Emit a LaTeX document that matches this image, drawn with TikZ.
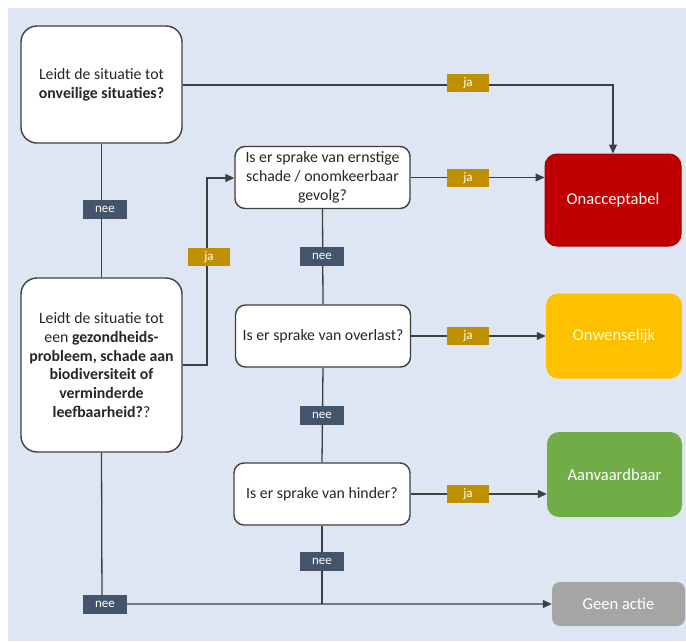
\documentclass[tikz,border=0pt]{standalone}
\usepackage{fontspec}
\setmainfont{Carlito}
\usetikzlibrary{arrows.meta,calc}
\definecolor{bgpanel}{HTML}{DEE6F3}
\definecolor{linec}{HTML}{3F3F3F}
\definecolor{neec}{HTML}{44546A}
\definecolor{jac}{HTML}{BF9000}
\definecolor{redc}{HTML}{C00000}
\definecolor{yelc}{HTML}{FFC000}
\definecolor{grnc}{HTML}{70AD47}
\definecolor{gryc}{HTML}{A5A5A5}
\definecolor{txtc}{HTML}{262626}
\tikzset{
  question/.style={draw=linec, line width=1.4pt, fill=white, align=center, text=txtc,
    font=\fontsize{15.8}{18.8}\selectfont, inner sep=2pt},
  result/.style={align=center, text=white, font=\fontsize{16.6}{19}\selectfont,
    rounded corners=12pt},
  conn/.style={draw=linec, line width=1.3pt},
  arr/.style={conn, -{Triangle[length=9pt,width=8pt]}},
  neelab/.style={fill=neec, text=white, minimum width=44pt, minimum height=19pt,
    inner sep=0pt, font=\fontsize{13}{14}\selectfont},
  jalab/.style={fill=jac, text=white, minimum width=42pt, minimum height=18pt,
    inner sep=0pt, font=\fontsize{13}{14}\selectfont},
}
\begin{document}
\begin{tikzpicture}[x=1pt,y=-1pt]
\useasboundingbox (0,0) rectangle (686,641);
\fill[white] (0,0) rectangle (686,641);
\fill[bgpanel] (8,8) rectangle (686,641);

% questions
\node[question, rounded corners=16pt, minimum width=161pt, minimum height=117pt] (q1) at (101.5,84.5)
  {Leidt de situatie tot\\\textbf{onveilige situaties?}};
\node[question, rounded corners=16pt, minimum width=161pt, minimum height=174pt] (q2) at (101.5,365)
  {Leidt de situatie tot\\een \textbf{gezondheids-}\\\textbf{probleem, schade aan}\\\textbf{biodiversiteit of}\\\textbf{verminderde}\\\textbf{leefbaarheid?}?};
\node[question, rounded corners=10pt, minimum width=175pt, minimum height=62pt] (q3) at (322.5,177.5)
  {Is er sprake van ernstige\\schade / onomkeerbaar\\gevolg?};
\node[question, rounded corners=10pt, minimum width=175pt, minimum height=62pt] (q4) at (323,336)
  {Is er sprake van overlast?};
\node[question, rounded corners=10pt, minimum width=176pt, minimum height=62pt] (q5) at (322,494)
  {Is er sprake van hinder?};

% results
\node[result, fill=redc, draw=redc!85!black, line width=1pt, minimum width=136pt, minimum height=92pt] (r1) at (613,200) {Onacceptabel};
\node[result, fill=yelc, text=white!80!yellow, minimum width=136pt, minimum height=85pt] (r2) at (614,336) {Onwenselijk};
\node[result, fill=grnc, minimum width=135pt, minimum height=85pt] (r3) at (614.5,474.5) {Aanvaardbaar};
\node[result, fill=gryc, rounded corners=8pt, minimum width=133pt, minimum height=44pt] (r4) at (618.5,604) {Geen actie};

% helper coordinates
\coordinate (c1) at (613,85);
\coordinate (c2a) at (207,365);
\coordinate (c2b) at (207,178);
\coordinate (c5) at (322,604);
\coordinate (c6) at (102,604);

% connectors
\draw[arr] (q1.east |- c1) -- (c1) -- (r1.north);
\draw[conn] (q1.south) -- (q2.north);
\draw[arr] (q2.east |- c2a) -- (c2a) -- (c2b) -- (q3.west |- c2b);
\draw[arr] (q3.east) -- (q3.east -| r1.west);
\draw[conn] (q3.south) -- (q4.north);
\draw[arr] (q4.east) -- (q4.east -| r2.west);
\draw[conn] (q4.south) -- (q5.north);
\draw[arr] (q5.east) -- (q5.east -| r3.west);
\draw[conn] (q5.south) -- (c5);
\draw[arr] (q2.south) -- (c6) -- (c6 -| r4.west);

% labels
\node[jalab] (l1) at (468,83) {ja};
\node[neelab] (l2) at (105,209) {nee};
\node[jalab] (l3) at (209,257) {ja};
\node[jalab] (l4) at (468,178) {ja};
\node[neelab] (l5) at (322,256) {nee};
\node[jalab] (l6) at (468,336) {ja};
\node[neelab] (l7) at (322,415) {nee};
\node[jalab] (l8) at (468,494) {ja};
\node[neelab] (l9) at (322,561) {nee};
\node[neelab] (l10) at (105,604) {nee};
\end{tikzpicture}
\end{document}
